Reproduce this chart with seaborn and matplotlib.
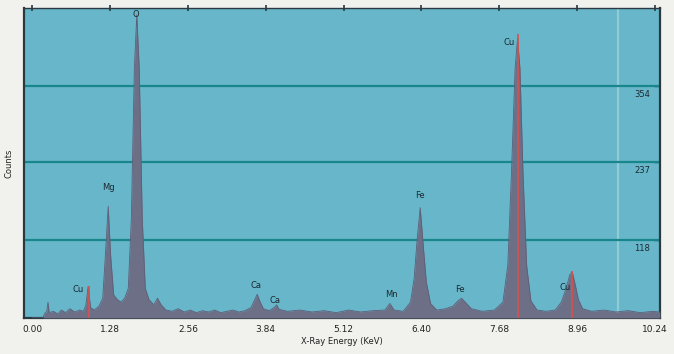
import numpy as np
import pandas as pd
import matplotlib
matplotlib.use("Agg")
import matplotlib.pyplot as plt
import matplotlib.transforms as mtransforms
import seaborn as sns

# ============================
# Dados do espectro EDS
# ============================
energy_kev = [0.00, 0.18, 0.20, 0.24, 0.26, 0.28, 0.35, 0.42, 0.48, 0.55,
              0.62, 0.70, 0.78, 0.84, 0.88, 0.92, 0.96, 1.02, 1.10, 1.16,
              1.20, 1.25, 1.29, 1.34, 1.40, 1.46, 1.52, 1.58, 1.63, 1.68,
              1.72, 1.76, 1.81, 1.86, 1.92, 2.00, 2.06, 2.12, 2.20, 2.30,
              2.40, 2.50, 2.60, 2.70, 2.80, 2.90, 3.00, 3.10, 3.20, 3.30,
              3.40, 3.50, 3.60, 3.66, 3.70, 3.74, 3.80, 3.90, 3.98, 4.02,
              4.06, 4.20, 4.40, 4.60, 4.80, 5.00, 5.20, 5.40, 5.60, 5.80,
              5.88, 5.95, 6.10, 6.22, 6.28, 6.33, 6.38, 6.43, 6.48, 6.55,
              6.65, 6.80, 6.92, 7.00, 7.06, 7.12, 7.22, 7.40, 7.60, 7.74,
              7.82, 7.88, 7.94, 7.98, 8.02, 8.07, 8.13, 8.20, 8.30, 8.45,
              8.60, 8.70, 8.78, 8.84, 8.88, 8.93, 8.98, 9.05, 9.20, 9.40,
              9.60, 9.80, 10.00, 10.20, 10.32]
counts = [0, 0, 6, 10, 24, 8, 10, 6, 12, 8,
          14, 9, 12, 10, 18, 48, 16, 12, 18, 30,
          90, 170, 95, 35, 28, 24, 30, 45, 150, 380,
          462, 380, 150, 45, 28, 20, 30, 20, 12, 10,
          14, 9, 12, 8, 11, 9, 12, 8, 10, 12,
          9, 11, 16, 28, 36, 26, 14, 11, 16, 20,
          13, 10, 12, 9, 11, 8, 12, 9, 11, 12,
          22, 12, 10, 24, 60, 120, 168, 110, 55, 22,
          12, 14, 18, 26, 30, 24, 14, 10, 12, 24,
          80, 220, 380, 426, 380, 220, 80, 26, 12, 10,
          12, 24, 45, 66, 70, 50, 28, 14, 10, 12,
          9, 11, 8, 10, 9]

# Rótulos dos elementos
peak_labels = ["Cu", "Mg", "O", "Ca", "Ca", "Mn", "Fe", "Fe", "Cu", "Cu"]
label_kev = [0.76, 1.25, 1.71, 3.68, 3.99, 5.90, 6.38, 7.03, 7.85, 8.76]
label_counts = [43, 198, 463, 50, 27, 35, 186, 43, 420, 46]

# Linhas de marcação do Cu
cu_line_kev = [0.93, 7.99, 8.87]
cu_line_counts = [48, 432, 72]

# Linhas de grade e eixo x
grid_counts = [118, 237, 354]
grid_text = ["118", "237", "354"]
xtick_kev = [0.00, 1.28, 2.56, 3.84, 5.12, 6.40, 7.68, 8.96, 10.24]

df = pd.DataFrame({"energy": energy_kev, "counts": counts})

# ============================
# Gráfico
# ============================
sns.set_theme(style="white")
plt.rcParams["font.family"] = ["DejaVu Sans"]

fig = plt.figure(figsize=(6.74, 3.54), dpi=100, facecolor="#f1f1ee")
ax = fig.add_axes([0.036, 0.102, 0.943, 0.875])
ax.set_facecolor("#68b6ca")

ax.set_xlim(-0.13, 10.32)
ax.set_ylim(0, 472)

# faixa clara perto da borda direita
ax.axvline(9.63, color="#8fcbd9", lw=1.6, zorder=1)

for g in grid_counts:
    ax.axhline(g, color="#17878c", lw=1.6, zorder=2)

ax.fill_between(df["energy"], 0, df["counts"], color="#6d6f86", lw=0, zorder=3)
sns.lineplot(data=df, x="energy", y="counts", ax=ax, color="#5d5f78", lw=0.6, zorder=4)

ax.vlines(cu_line_kev, 0, cu_line_counts, color="#d8504a", lw=1.2, zorder=5)

for name, xk, yc in zip(peak_labels, label_kev, label_counts):
    ax.text(xk, yc, name, ha="center", va="center", fontsize=6,
            color="#1c2a30", zorder=6)

trans = mtransforms.blended_transform_factory(ax.transAxes, ax.transData)
for g, t in zip(grid_counts, grid_text):
    ax.text(0.985, g - 6, t, transform=trans, ha="right", va="top",
            fontsize=6, color="#1c2a30", zorder=6)

ax.set_xticks(xtick_kev)
ax.set_xticklabels([f"{v:.2f}" for v in xtick_kev], fontsize=6.5, color="#222222")
ax.set_yticks(grid_counts)
ax.set_yticklabels([])
ax.tick_params(axis="x", direction="inout", length=4, width=1.2, color="#2a3a40",
               top=True, pad=3)
ax.tick_params(axis="y", direction="in", length=4, width=1, color="#2a3a40",
               left=False, right=True)

ax.set_xlabel("X-Ray Energy (KeV)", fontsize=6, color="#222222", labelpad=2)
ax.set_ylabel("Counts", fontsize=6, color="#222222", labelpad=4)

for side in ["left", "bottom", "top", "right"]:
    ax.spines[side].set_visible(True)
    ax.spines[side].set_color("#2a3a40")
ax.spines["left"].set_linewidth(1.6)
ax.spines["bottom"].set_linewidth(1.6)
ax.spines["top"].set_linewidth(1.0)
ax.spines["right"].set_linewidth(1.6)

plt.savefig("out.png", dpi=100, facecolor=fig.get_facecolor())
